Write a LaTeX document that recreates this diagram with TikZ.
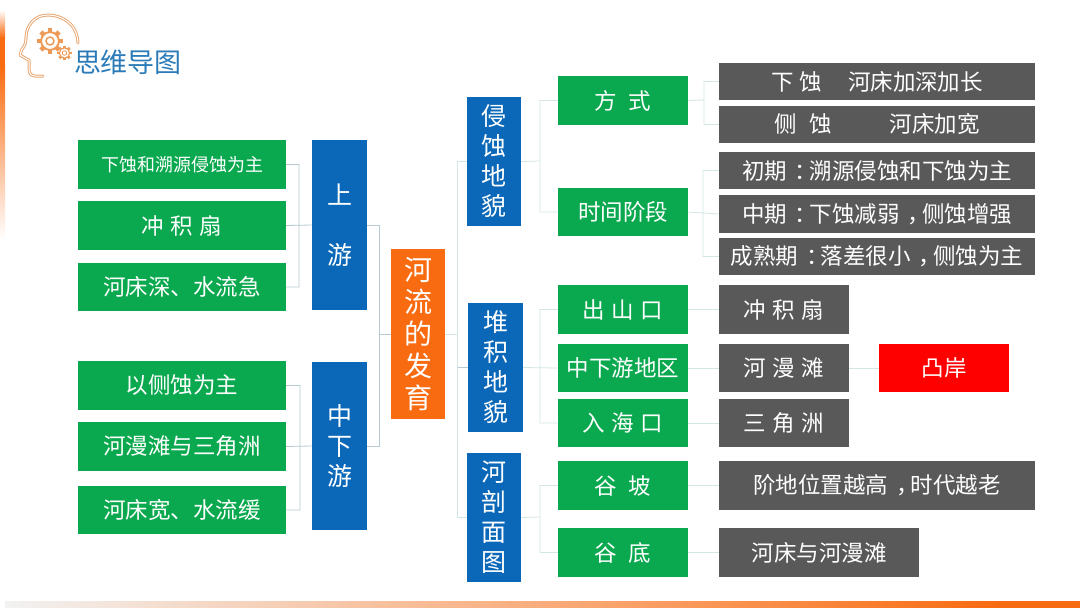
\documentclass[tikz,border=0pt]{standalone}
\usepackage{fontspec}
\setmainfont{Noto Sans CJK SC}
\usetikzlibrary{calc}
\definecolor{gn}{HTML}{0BA94F}
\definecolor{bl}{HTML}{0B68B9}
\definecolor{og}{HTML}{F96B10}
\definecolor{gy}{HTML}{595959}
\definecolor{rd}{HTML}{FE0000}
\definecolor{ln}{HTML}{B5CBD1}
\definecolor{lnp}{HTML}{D3E6E6}
\definecolor{ttl}{HTML}{2A7BB8}
\definecolor{lg}{HTML}{E9A873}
\definecolor{lgd}{HTML}{EC9A55}
\tikzset{
 box/.style={draw=none,fill=#1,text=white,inner sep=0pt,align=center},
 link/.style={draw=ln,line width=0.8pt},
 plink/.style={draw=lnp,line width=0.8pt},
}
% name, x0, y0, x1, y1, colour, font px, text
\newcommand{\bx}[8]{\node[box=#6,minimum width=#4pt-#2pt,minimum height=#5pt-#3pt,font=\fontsize{#7pt}{\dimexpr#7pt*6/5\relax}\selectfont] (#1) at ({(#2+#4)/2},{(#3+#5)/2}) {#8};}
\newcommand{\gear}[3]{% x y r
 \foreach \a in {0,45,...,315}{\draw[lgd,line width=#3*0.42pt] ($(#1,#2)+(\a:#3*0.85)$)--($(#1,#2)+(\a:#3*1.22)$);}
 \draw[lgd,line width=#3*0.18pt,fill=white] (#1,#2) circle[radius=#3*0.85];
 \draw[lgd,line width=#3*0.14pt] (#1,#2) circle[radius=#3*0.38];
}
% full-width punctuation, centred in its em box
\newcommand{\pn}[1]{\hspace{0.35em}#1\hspace{-0.35em}}
\begin{document}
\begin{tikzpicture}[x=1pt,y=-1pt]
\useasboundingbox (0,0) rectangle (1080,608);
\fill[white] (0,0) rectangle (1080,608);
% frame decoration
\fill[top color=white,bottom color=og] (0,10) rectangle (5,38);
\fill[og] (0,38) rectangle (5,65);
\fill[top color=og,bottom color=white] (0,65) rectangle (5,240);
\fill[left color=white!95!black,right color=og!70!white] (5,601) rectangle (700,608);
\fill[left color=og!70!white,right color=og] (700,601) rectangle (1000,608);
\fill[og] (1000,601) rectangle (1080,608);
% logo
\draw[lg,line width=3pt,line cap=round,line join=round]
 (78,43) .. controls (77,22) and (60,15) .. (48,15)
 .. controls (34,15) and (26,26) .. (26,38)
 .. controls (26,44) and (24,47) .. (22,49)
 -- (20,55) -- (25,58) -- (29,60) -- (29,69)
 .. controls (29,73) and (31,76) .. (35,76) -- (43,76);
\draw[white,line width=1pt,line cap=round,line join=round]
 (78,43) .. controls (77,22) and (60,15) .. (48,15)
 .. controls (34,15) and (26,26) .. (26,38)
 .. controls (26,44) and (24,47) .. (22,49)
 -- (20,55) -- (25,58) -- (29,60) -- (29,69)
 .. controls (29,73) and (31,76) .. (35,76) -- (43,76);
\gear{50}{41}{10.5}
\gear{64.5}{53}{6}
\node[font=\fontsize{27pt}{30pt}\selectfont,text=ttl,inner sep=0pt] (title) at (128,62) {思维导图};
% boxes left
\bx{a1}{78}{140}{286}{189}{gn}{18}{下蚀和溯源侵蚀为主}
\bx{a2}{78}{201}{286}{250}{gn}{22.5}{冲\hspace{6.5pt}积\hspace{6.5pt}扇}
\bx{a3}{78}{263}{286}{311}{gn}{22.5}{河床深、水流急}
\bx{b1}{78}{361}{286}{410}{gn}{22.5}{以侧蚀为主}
\bx{b2}{78}{422}{286}{471}{gn}{22.5}{河漫滩与三角洲}
\bx{b3}{78}{486}{286}{534}{gn}{22.5}{河床宽、水流缓}
\bx{up}{312}{140}{367}{310}{bl}{25}{上\\[30pt]游}
\bx{dn}{312}{362}{367}{530}{bl}{25}{中\\下\\游}
\bx{root}{391}{249}{445}{419}{og}{28}{河\\[-1.6pt]流\\[-1.6pt]的\\[-1.6pt]发\\[-1.6pt]育}
\bx{c1}{467}{97}{521}{226}{bl}{25}{侵\\蚀\\地\\貌}
\bx{c2}{468}{303}{523}{432}{bl}{25}{堆\\积\\地\\貌}
\bx{c3}{467}{453}{521}{582}{bl}{25}{河\\剖\\面\\图}
\bx{d1}{558}{76}{688}{125}{gn}{22.5}{方\hspace{12pt}式}
\bx{d2}{558}{188}{688}{236}{gn}{22.5}{时间阶段}
\bx{d3}{558}{285}{688}{334}{gn}{22.5}{出\hspace{6.5pt}山\hspace{6.5pt}口}
\bx{d4}{558}{344}{688}{392}{gn}{22.5}{中下游地区}
\bx{d5}{558}{399}{688}{447}{gn}{22.5}{入\hspace{6.5pt}海\hspace{6.5pt}口}
\bx{d6}{558}{461}{688}{510}{gn}{22.5}{谷\hspace{12pt}坡}
\bx{d7}{558}{528}{688}{577}{gn}{22.5}{谷\hspace{12pt}底}
\bx{e1}{719}{63}{1035}{100}{gy}{22.5}{下\hspace{6pt}蚀\hspace{26pt}河床加深加长}
\bx{e2}{719}{106}{1035}{143}{gy}{22.5}{侧\hspace{13pt}蚀\hspace{57pt}河床加宽}
\bx{e3}{719}{152}{1035}{189}{gy}{22.5}{初期\pn{：}溯源侵蚀和下蚀为主}
\bx{e4}{719}{195}{1035}{233}{gy}{22.5}{中期\pn{：}下蚀减弱\pn{，}侧蚀增强}
\bx{e5}{719}{238}{1035}{275}{gy}{22.5}{成熟期\pn{：}落差很小\pn{，}侧蚀为主}
\bx{e6}{719}{285}{849}{334}{gy}{22.5}{冲\hspace{6.5pt}积\hspace{6.5pt}扇}
\bx{e7}{719}{344}{849}{392}{gy}{22.5}{河\hspace{6.5pt}漫\hspace{6.5pt}滩}
\bx{e8}{719}{399}{849}{447}{gy}{22.5}{三\hspace{6.5pt}角\hspace{6.5pt}洲}
\bx{e9}{719}{461}{1035}{510}{gy}{22.5}{阶地位置越高\pn{，}时代越老}
\bx{e10}{719}{528}{919}{577}{gy}{22.5}{河床与河漫滩}
\bx{f1}{879}{344}{1009}{392}{rd}{22.5}{凸岸}
% connectors
\coordinate (bU) at (299,225);
\draw[link] (a1.east) -| (bU) (a3.east) -| (bU) (a2.east) -- (up.west);
\coordinate (bD) at (300,446);
\draw[link] (b1.east) -| (bD) (b3.east) -| (bD) (b2.east) -- (dn.west);
\coordinate (bR) at (379,334);
\draw[link] (up.east) -| (bR) (dn.east) -| (bR) (bR) -- (root.west);
\coordinate (bM) at (457,334);
\draw[plink] (root.east) -- (bM);
\draw[plink] (c1.west) -| (bM);
\draw[link] (c2.west) -| (bM);
\draw[plink] (c3.west) -| (bM);
\coordinate (b1x) at (540,161);
\draw[plink] (c1.east) -- (b1x) (d1.west) -| (b1x) (d2.west) -| (b1x);
\coordinate (b2x) at (540,367);
\draw[plink] (c2.east) -- (d4.west) (d3.west) -| (b2x) (d5.west) -| (b2x);
\coordinate (b3x) at (540,517);
\draw[plink] (c3.east) -- (b3x) (d6.west) -| (b3x) (d7.west) -| (b3x);
\coordinate (b4x) at (704,100);
\draw[plink] (d1.east) -- (b4x) (e1.west) -| (b4x) (e2.west) -| (b4x);
\coordinate (b5x) at (703,212);
\draw[plink] (d2.east) -- (e4.west) (e3.west) -| (b5x) (e5.west) -| (b5x);
\draw[plink] (d3.east) -- (e6.west);
\draw[plink] (d4.east) -- (e7.west);
\draw[plink] (d5.east) -- (e8.west);
\draw[plink] (d6.east) -- (e9.west);
\draw[plink] (d7.east) -- (e10.west);
\draw[plink] (e7.east) -- (f1.west);
\end{tikzpicture}
\end{document}
